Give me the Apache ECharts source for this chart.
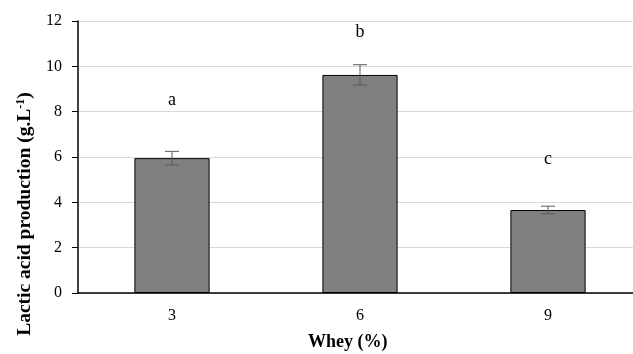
<!DOCTYPE html>
<html>
<head>
<meta charset="utf-8">
<script src="https://cdn.jsdelivr.net/npm/echarts@6/dist/echarts.min.js"></script>
<style>
  html, body { margin: 0; padding: 0; background: #fff; }
  #chart { width: 633px; height: 354px; }
</style>
</head>
<body>
<div id="chart"></div>
<script>
// 乳清浓度与乳酸产量
var categories = ['3', '6', '9'];
var production = [5.95, 9.62, 3.66];
var errors = [0.3, 0.45, 0.17];
var letters = ['a', 'b', 'c'];
var letterY = [8.5, 11.5, 5.9];
var yTicks = [0, 2, 4, 6, 8, 10, 12];

var serif = '"Liberation Serif", "Times New Roman", serif';

function drawChart(node){
    var errData = [];
    var letterData = [];
    for (var i = 0; i < categories.length; i++) {
        errData.push([i, production[i] - errors[i], production[i] + errors[i]]);
        letterData.push([i, letterY[i], letters[i]]);
    }
    var options = {
        animation: false,
        grid: { left: 78, top: 21, width: 564, height: 272, outerBoundsMode: 'none', containLabel: false },
        xAxis: {
            type: 'category',
            data: categories,
            axisLine: { lineStyle: { color: '#000', width: 1.5 } },
            axisTick: { show: false },
            axisLabel: { color: '#000', fontFamily: serif, fontSize: 16, margin: 15 }
        },
        yAxis: {
            type: 'value',
            min: yTicks[0],
            max: yTicks[yTicks.length - 1],
            interval: 2,
            axisLine: { show: true, lineStyle: { color: '#000', width: 1.5 } },
            axisTick: { show: true, length: 6, lineStyle: { color: '#000' } },
            axisLabel: { color: '#000', fontFamily: serif, fontSize: 16, margin: 16 },
            splitLine: { lineStyle: { color: '#d9d9d9', width: 1 } }
        },
        graphic: [
            {
                type: 'text',
                left: 308,
                top: 333,
                style: { text: 'Whey (%)', font: 'bold 18px ' + serif, fill: '#000' }
            },
            {
                // 纵轴标题，位置偏下
                type: 'text',
                x: 25,
                y: 214,
                rotation: Math.PI / 2,
                style: {
                    text: '{n|Lactic acid production (g.L}{s|-1}{n|)}',
                    align: 'center',
                    verticalAlign: 'middle',
                    rich: {
                        n: { fontFamily: serif, fontSize: 19.5, fontWeight: 'bold', fill: '#000' },
                        s: { fontFamily: serif, fontSize: 12, fontWeight: 'bold', fill: '#000', verticalAlign: 'top', padding: [0, 0, 8, 0] }
                    }
                }
            }
        ],
        series: [
            {
                type: 'bar',
                data: production,
                barWidth: '40%',
                itemStyle: { color: '#808080', borderColor: '#000', borderWidth: 1 },
                z: 2
            },
            {
                type: 'custom',
                data: errData,
                z: 3,
                renderItem: function(params, api){
                    var x = api.value(0);
                    var lo = api.coord([x, api.value(1)]);
                    var hi = api.coord([x, api.value(2)]);
                    var w = 7;
                    var st = { stroke: '#595959', lineWidth: 1 };
                    return {
                        type: 'group',
                        children: [
                            { type: 'line', shape: { x1: hi[0], y1: hi[1], x2: lo[0], y2: lo[1] }, style: st },
                            { type: 'line', shape: { x1: hi[0] - w, y1: hi[1], x2: hi[0] + w, y2: hi[1] }, style: st },
                            { type: 'line', shape: { x1: lo[0] - w, y1: lo[1], x2: lo[0] + w, y2: lo[1] }, style: st }
                        ]
                    };
                }
            },
            {
                type: 'custom',
                data: letterData,
                z: 4,
                renderItem: function(params, api){
                    var p = api.coord([api.value(0), api.value(1)]);
                    return {
                        type: 'text',
                        x: p[0], y: p[1],
                        style: {
                            text: letters[params.dataIndex],
                            font: '18px ' + serif,
                            fill: '#000',
                            align: 'center',
                            verticalAlign: 'middle'
                        }
                    };
                }
            }
        ]
    };
    var chart = echarts.init(node);
    chart.setOption(options);
}

drawChart(document.getElementById('chart'));
</script>
</body>
</html>
